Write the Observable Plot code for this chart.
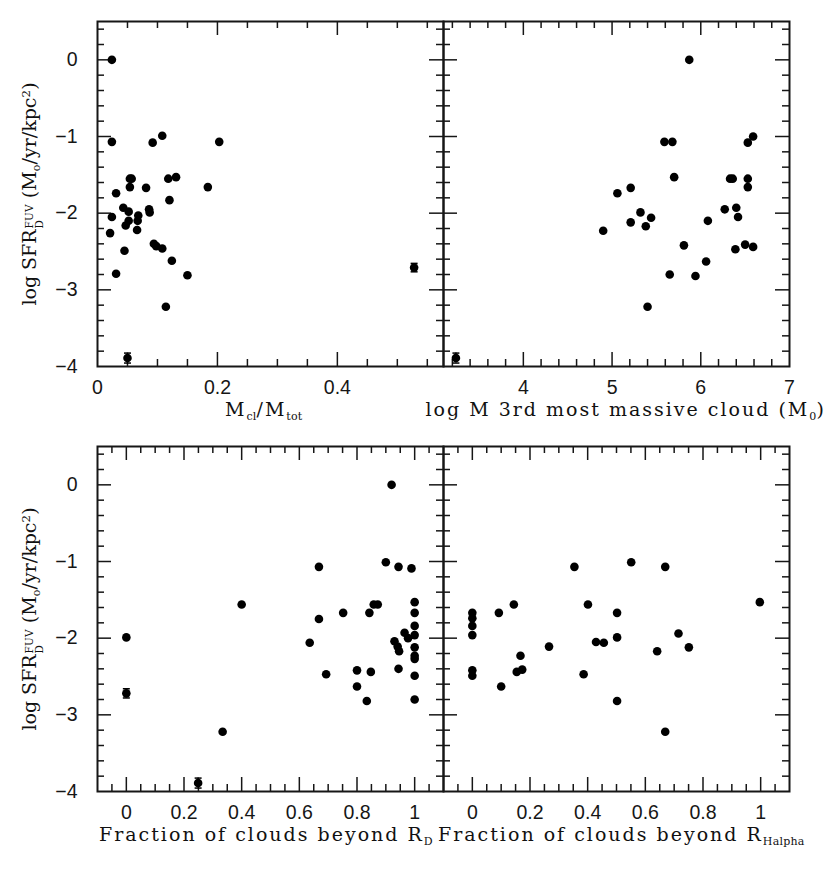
<!DOCTYPE html>
<html>
<head>
<meta charset="utf-8">
<script src="https://cdn.jsdelivr.net/npm/d3@7"></script>
<script src="https://cdn.jsdelivr.net/npm/@observablehq/plot@0.6"></script>
<style>
  html, body { margin: 0; padding: 0; background: #fff; }
  #fig { position: relative; width: 831px; height: 881px; background: #fff; overflow: hidden; color: #111; }
  .panel { position: absolute; }
  .title { position: absolute; white-space: nowrap; font-family: "DejaVu Serif", serif; font-size: 19px; color: #111; line-height: 0.9; }
  .ytitle { transform: translate(-50%, -50%) rotate(-90deg); letter-spacing: 0px; }
  .xtitle { transform: translate(-50%, -50%); letter-spacing: 2px; }
  .xtitleL { transform: translate(0, -50%); letter-spacing: 2px; }
  .title sub { font-size: 58%; position: relative; top: 0.32em; vertical-align: baseline; line-height: 0; letter-spacing: 0.2px; }
  .title sup { font-size: 62%; position: relative; top: -0.55em; vertical-align: baseline; line-height: 0; letter-spacing: 0.2px; }
  .ss { display: inline-flex; flex-direction: column; font-size: 55%; line-height: 1.0; vertical-align: 0.32em; letter-spacing: 0.2px; margin-left: 1px; }
</style>
</head>
<body>
<div id="fig"></div>
<script>
// ---------- shared y axis ----------
const yDomain = [-4, 0.5];
const yMinor = [-3.8, -3.6, -3.4, -3.2, -2.8, -2.6, -2.4, -2.2, -1.8, -1.6, -1.4, -1.2, -0.8, -0.6, -0.4, -0.2, 0.2, 0.4];
const yMajor = [-3, -2, -1, 0];
const yLabels = [-4, -3, -2, -1, 0];

// ---------- panel 1: M_cl / M_tot ----------
const mclDomain = [0, 0.577];
const mclMinor = [0.05, 0.1, 0.15, 0.25, 0.3, 0.35, 0.45, 0.5, 0.55];
const mclMajor = [0.2, 0.4];
const mclLabels = [0, 0.2, 0.4];
const mcl  = [0.024, 0.024, 0.092, 0.108, 0.203, 0.054, 0.057, 0.054, 0.081, 0.118, 0.131, 0.184, 0.031, 0.120, 0.043, 0.052, 0.024, 0.086, 0.087, 0.068, 0.052, 0.047, 0.067, 0.066, 0.021, 0.094, 0.098, 0.108, 0.045, 0.124, 0.031, 0.150, 0.114, 0.050, 0.528];
const sfr1 = [0.00, -1.07, -1.08, -0.99, -1.07, -1.55, -1.55, -1.66, -1.67, -1.55, -1.53, -1.66, -1.74, -1.83, -1.93, -1.98, -2.05, -1.95, -1.99, -2.03, -2.10, -2.16, -2.10, -2.22, -2.26, -2.40, -2.43, -2.46, -2.49, -2.62, -2.79, -2.81, -3.22, -3.89, -2.71];
const err1 = [0, 0, 0, 0, 0, 0, 0, 0, 0, 0, 0, 0, 0, 0, 0, 0, 0, 0, 0, 0, 0, 0, 0, 0, 0, 0, 0, 0, 0, 0, 0, 0, 0, 0.065, 0.055];

// ---------- panel 2: log M of 3rd most massive cloud ----------
const logmDomain = [3.1, 7];
const logmMinor = [3.2, 3.4, 3.6, 3.8, 4.2, 4.4, 4.6, 4.8, 5.2, 5.4, 5.6, 5.8, 6.2, 6.4, 6.6, 6.8];
const logmMajor = [4, 5, 6];
const logmLabels = [4, 5, 6, 7];
const logm = [5.87, 5.59, 5.68, 6.59, 6.53, 5.70, 6.33, 6.36, 6.53, 6.53, 5.21, 5.06, 5.32, 5.44, 5.21, 5.38, 4.90, 6.27, 6.40, 6.42, 6.08, 5.81, 6.39, 6.50, 6.59, 6.06, 5.65, 5.94, 5.40, 3.24];
const sfr2 = [0.00, -1.07, -1.07, -1.00, -1.08, -1.53, -1.55, -1.55, -1.55, -1.66, -1.67, -1.74, -1.99, -2.06, -2.12, -2.17, -2.23, -1.95, -1.93, -2.05, -2.10, -2.42, -2.47, -2.41, -2.44, -2.63, -2.80, -2.82, -3.22, -3.89];
const err2 = [0, 0, 0, 0, 0, 0, 0, 0, 0, 0, 0, 0, 0, 0, 0, 0, 0, 0, 0, 0, 0, 0, 0, 0, 0, 0, 0, 0, 0, 0.065];

// ---------- panels 3 & 4: fractions ----------
const fracDomain = [-0.1, 1.1];
const fracMinor = [-0.05, 0.05, 0.1, 0.15, 0.25, 0.3, 0.35, 0.45, 0.5, 0.55, 0.65, 0.7, 0.75, 0.85, 0.9, 0.95, 1.05];
const fracMajor = [0, 0.2, 0.4, 0.6, 0.8, 1];
const fracLabels = [0, 0.2, 0.4, 0.6, 0.8, 1];

const fracD = [0.92, 0.668, 0.90, 0.944, 0.989, 0.40, 0.668, 0.752, 0.843, 0.858, 0.872, 1.0, 1.0, 1.0, 1.0, 1.0, 1.0, 1.0, 1.0, 1.0, 0.965, 0.977, 0.93, 0.941, 0.946, 0.944, 0.636, 0.693, 0.80, 0.848, 0.80, 0.834, 0.334, 0.0, 0.0, 0.249];
const sfr3  = [0.00, -1.07, -1.01, -1.07, -1.09, -1.56, -1.75, -1.67, -1.67, -1.56, -1.56, -1.53, -1.67, -1.84, -1.96, -2.12, -2.23, -2.27, -2.49, -2.80, -1.93, -2.00, -2.04, -2.11, -2.17, -2.40, -2.06, -2.47, -2.42, -2.44, -2.63, -2.82, -3.22, -1.99, -2.72, -3.89];
const err3  = [0, 0, 0, 0, 0, 0, 0, 0, 0, 0, 0, 0, 0, 0, 0, 0, 0, 0, 0, 0, 0, 0, 0, 0, 0, 0, 0, 0, 0, 0, 0, 0, 0, 0, 0.06, 0.065];

const fracH = [0, 0, 0, 0, 0, 0, 0.092, 0.144, 0.167, 0.154, 0.173, 0.10, 0.266, 0.354, 0.401, 0.429, 0.456, 0.386, 0.502, 0.502, 0.502, 0.551, 0.669, 0.641, 0.715, 0.751, 0.669, 0.997];
const sfr4  = [-1.67, -1.74, -1.84, -1.96, -2.42, -2.49, -1.67, -1.56, -2.23, -2.44, -2.41, -2.63, -2.11, -1.07, -1.56, -2.05, -2.06, -2.47, -1.67, -1.99, -2.82, -1.01, -1.07, -2.17, -1.94, -2.12, -3.22, -1.53];

// ---------- layout ----------
const FW = 346, FH = 345, ML = 60, MR = 20, MT = 10, MB = 45;
const INK = "#161616";
const MAJ = 14, MIN = 7;
const fmt = d => (d < 0 ? "\u2212" + String(Math.abs(d)) : String(d));

const capSymbol = {
  draw(context, size) {
    const r = Math.sqrt(size / Math.PI);
    context.moveTo(-r, 0);
    context.lineTo(r, 0);
  }
};

function panel({xDomain, xMinor, xMajor, xLabels, xs, ys, errs, showY, left, top}) {
  const data = xs.map((x, i) => ({x, y: ys[i], e: errs ? errs[i] : 0}));
  const eb = data.filter(d => d.e > 0);
  const tick = {stroke: INK, strokeWidth: 1.5};
  const marks = [
    Plot.tickX(xMinor, {x: d => d, insetBottom: FH - MIN, ...tick}),
    Plot.tickX(xMinor, {x: d => d, insetTop: FH - MIN, ...tick}),
    Plot.tickX(xMajor, {x: d => d, insetBottom: FH - MAJ, ...tick}),
    Plot.tickX(xMajor, {x: d => d, insetTop: FH - MAJ, ...tick}),
    Plot.tickY(yMinor, {y: d => d, insetRight: FW - MIN, ...tick}),
    Plot.tickY(yMinor, {y: d => d, insetLeft: FW - MIN, ...tick}),
    Plot.tickY(yMajor, {y: d => d, insetRight: FW - MAJ, ...tick}),
    Plot.tickY(yMajor, {y: d => d, insetLeft: FW - MAJ, ...tick}),
    Plot.axisX(xLabels, {anchor: "bottom", tickSize: 0, tickPadding: 14, fontSize: 19.5, tickFormat: fmt, label: null}),
    showY ? Plot.axisY(yLabels, {anchor: "left", tickSize: 0, tickPadding: 20, fontSize: 19.5, tickFormat: fmt, label: null}) : null,
    Plot.ruleX(eb, {x: "x", y1: d => d.y - d.e, y2: d => d.y + d.e, stroke: "#000", strokeWidth: 1.5}),
    Plot.dot(eb, {x: "x", y: d => d.y - d.e, symbol: capSymbol, r: 3.5, fill: "none", stroke: "#000", strokeWidth: 1.5}),
    Plot.dot(eb, {x: "x", y: d => d.y + d.e, symbol: capSymbol, r: 3.5, fill: "none", stroke: "#000", strokeWidth: 1.5}),
    Plot.dot(data, {x: "x", y: "y", r: 4.3, fill: "#000", stroke: "none"}),
    Plot.frame({stroke: INK, strokeWidth: 2})
  ];
  const chart = Plot.plot({
    width: ML + FW + MR,
    height: MT + FH + MB,
    marginLeft: ML, marginRight: MR, marginTop: MT, marginBottom: MB,
    style: {background: "none", overflow: "visible", fontFamily: "'Liberation Sans', Arial, sans-serif", fontSize: "19.5px", color: INK},
    x: {domain: xDomain},
    y: showY ? {domain: yDomain} : {domain: yDomain, axis: null},
    marks
  });
  const wrap = document.createElement("div");
  wrap.className = "panel";
  wrap.style.left = (left - ML) + "px";
  wrap.style.top = (top - MT) + "px";
  wrap.appendChild(chart);
  document.getElementById("fig").appendChild(wrap);
}

const X0 = 96.7, X1 = 442.7, Y0 = 21, Y1 = 446;

panel({xDomain: mclDomain, xMinor: mclMinor, xMajor: mclMajor, xLabels: mclLabels, xs: mcl, ys: sfr1, errs: err1, showY: true, left: X0, top: Y0});
panel({xDomain: logmDomain, xMinor: logmMinor, xMajor: logmMajor, xLabels: logmLabels, xs: logm, ys: sfr2, errs: err2, showY: false, left: X1, top: Y0});
panel({xDomain: fracDomain, xMinor: fracMinor, xMajor: fracMajor, xLabels: fracLabels, xs: fracD, ys: sfr3, errs: err3, showY: true, left: X0, top: Y1});
panel({xDomain: fracDomain, xMinor: fracMinor, xMajor: fracMajor, xLabels: fracLabels, xs: fracH, ys: sfr4, errs: null, showY: false, left: X1, top: Y1});

// ---------- axis titles ----------
const yTitleHTML = 'log SFR<span class="ss"><span>FUV</span><span>D</span></span> (M<sub>o</sub>/yr/kpc<sup>2</sup>)';
const titles = [
  {html: yTitleHTML, cls: "ytitle", x: 33, y: Y0 + FH / 2},
  {html: yTitleHTML, cls: "ytitle", x: 33, y: Y1 + FH / 2},
  {html: 'M<sub>cl</sub>/M<sub>tot</sub>', cls: "xtitle", x: X0 + FW / 2 - 6, y: 410},
  {html: 'log M 3rd most massive cloud (M<sub>0</sub>)', cls: "xtitle", x: X1 + FW / 2 + 10, y: 410},
  {html: 'Fraction of clouds beyond R<sub>D</sub>', cls: "xtitleL", x: 99, y: 835},
  {html: 'Fraction of clouds beyond R<sub>Halpha</sub>', cls: "xtitleL", x: 438, y: 835}
];
for (const t of titles) {
  const el = document.createElement("div");
  el.className = "title " + t.cls;
  el.innerHTML = t.html;
  el.style.left = t.x + "px";
  el.style.top = t.y + "px";
  document.getElementById("fig").appendChild(el);
}
</script>
</body>
</html>
